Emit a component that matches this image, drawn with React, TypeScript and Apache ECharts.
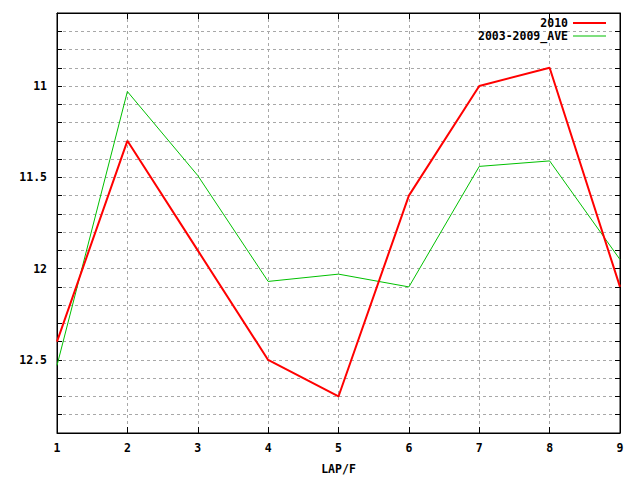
import { useEffect, useRef } from "react";
import * as echarts from "echarts";

// lap numbers on the x axis
const laps = [1, 2, 3, 4, 5, 6, 7, 8, 9];
// lap times
const times2010 = [12.4, 11.3, 11.9, 12.5, 12.7, 11.6, 11.0, 10.9, 12.1];
const timesAve = [12.53, 11.03, 11.49, 12.07, 12.03, 12.1, 11.44, 11.41, 11.95];

const seriesNames = ["2010", "2003-2009_AVE"];

const FONT = "'DejaVu Sans Mono', monospace";

export default function App() {
    const chartRef = useRef<HTMLDivElement>(null);

    useEffect(() => {
        if (!chartRef.current) return;

        const myChart = echarts.init(chartRef.current, null, { renderer: "svg" });

        const labelStyle = {
            color: "#000",
            fontFamily: FONT,
            fontWeight: "bold" as const,
            fontSize: 11.5,
        };
        const grayGrid = {
            show: true,
            lineStyle: { color: "#a8a8a8", type: [3, 3], width: 1 },
        };

        const option = {
            animation: false,
            backgroundColor: "#fff",
            grid: {
                left: 57,
                right: 20,
                top: 13,
                bottom: 40,
                show: true,
                borderColor: "#000",
                borderWidth: 1,
                backgroundColor: "transparent",
            },
            legend: [
                {
                    data: [seriesNames[0]],
                    right: 34,
                    top: 17,
                    padding: 0,
                    align: "right",
                    icon: "rect",
                    itemWidth: 33,
                    itemHeight: 2,
                    textStyle: labelStyle,
                },
                {
                    data: [seriesNames[1]],
                    right: 34,
                    top: 30,
                    padding: 0,
                    align: "right",
                    icon: "rect",
                    itemWidth: 33,
                    itemHeight: 1,
                    textStyle: labelStyle,
                },
            ],
            xAxis: [
                {
                    type: "value",
                    min: 1,
                    max: 9,
                    interval: 1,
                    name: "LAP/F",
                    nameLocation: "middle",
                    nameGap: 30,
                    nameTextStyle: labelStyle,
                    axisLine: { show: true, lineStyle: { color: "#000" } },
                    axisTick: { show: true, inside: true, length: 6, lineStyle: { color: "#000" } },
                    axisLabel: { ...labelStyle, margin: 9 },
                    splitLine: grayGrid,
                },
                {
                    type: "value",
                    position: "top",
                    min: 1,
                    max: 9,
                    interval: 1,
                    axisLine: { show: true, lineStyle: { color: "#000" } },
                    axisTick: { show: true, inside: true, length: 6, lineStyle: { color: "#000" } },
                    axisLabel: { show: false },
                    splitLine: { show: false },
                },
            ],
            yAxis: [
                {
                    type: "value",
                    inverse: true,
                    min: 10.6,
                    max: 12.9,
                    interval: 0.1,
                    axisLine: { show: true, lineStyle: { color: "#000" } },
                    axisTick: { show: true, inside: true, length: 5, lineStyle: { color: "#000" } },
                    axisLabel: {
                        ...labelStyle,
                        margin: 10,
                        formatter: (v: number) => {
                            const t = Math.round(v * 10);
                            return t % 5 === 0 ? String(t / 10) : "";
                        },
                    },
                    splitLine: grayGrid,
                },
                {
                    type: "value",
                    position: "right",
                    inverse: true,
                    min: 10.6,
                    max: 12.9,
                    interval: 0.1,
                    axisLine: { show: true, lineStyle: { color: "#000" } },
                    axisTick: { show: true, inside: true, length: 5, lineStyle: { color: "#000" } },
                    axisLabel: { show: false },
                    splitLine: { show: false },
                },
            ],
            series: [
                {
                    name: seriesNames[0],
                    type: "line",
                    showSymbol: false,
                    color: "#ff0000",
                    lineStyle: { color: "#ff0000", width: 2 },
                    data: laps.map((l, i) => [l, times2010[i]]),
                    z: 3,
                },
                {
                    name: seriesNames[1],
                    type: "line",
                    showSymbol: false,
                    color: "#00c000",
                    lineStyle: { color: "#00c000", width: 1 },
                    data: laps.map((l, i) => [l, timesAve[i]]),
                    z: 2,
                },
            ],
        };

        myChart.setOption(option);

        return () => {
            myChart.dispose();
        };
    }, []);

    return (
        <div
            ref={chartRef}
            style={{ position: "fixed", left: 0, top: 0, width: 640, height: 480 }}
        />
    );
}
